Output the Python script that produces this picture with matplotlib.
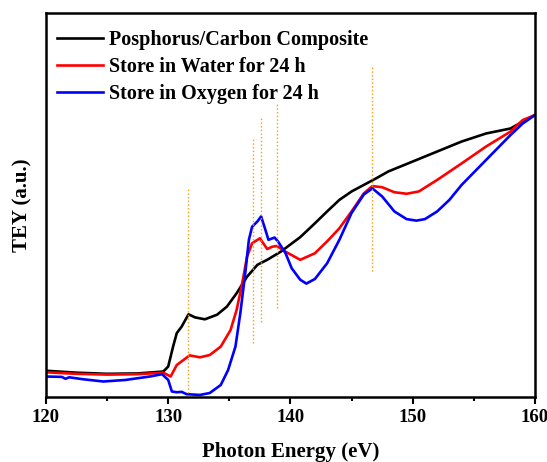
import matplotlib.pyplot as plt
from matplotlib.ticker import MultipleLocator

# photon energy (eV) and TEY (a.u.) for each sample
e_pc = [120, 122.5, 125, 127.5, 129.6, 130.0, 130.4, 130.7, 131.1, 131.66, 132.2, 133.0, 134.0,
        134.8, 135.6, 136.45, 137.3, 138.1, 139.2, 140.8, 142, 143, 144, 145, 146, 147, 148,
        150, 152, 154, 156, 158, 159, 160]
tey_pc = [0.068, 0.063, 0.06, 0.061, 0.066, 0.079, 0.131, 0.166, 0.183, 0.215, 0.207, 0.202,
          0.214, 0.235, 0.27, 0.313, 0.344, 0.357, 0.378, 0.416, 0.452, 0.483, 0.513, 0.535,
          0.552, 0.569, 0.587, 0.613, 0.639, 0.665, 0.686, 0.699, 0.717, 0.734]

e_water = [120, 122.5, 125, 127.5, 129.6, 130.2, 130.7, 131.25, 131.75, 132.6, 133.4, 134.3,
           135.1, 135.6, 136.0, 136.45, 136.86, 137.5, 138.1, 138.5, 138.9, 139.6, 140.8, 142,
           143, 144, 145, 146, 146.7, 147.5, 148.5, 149.5, 150.5, 152, 154, 156, 158, 159, 160]
tey_water = [0.064, 0.06, 0.058, 0.059, 0.063, 0.053, 0.083, 0.096, 0.108, 0.103, 0.109, 0.131,
             0.174, 0.227, 0.287, 0.365, 0.40, 0.413, 0.385, 0.391, 0.393, 0.378, 0.357, 0.374,
             0.405, 0.439, 0.483, 0.53, 0.549, 0.546, 0.533, 0.529, 0.535, 0.565, 0.608, 0.652,
             0.691, 0.721, 0.734]

e_oxy = [120, 121.3, 121.6, 121.9, 123, 124.7, 126.5, 128.5, 129.5, 130.0, 130.3, 130.7, 131.1,
         131.5, 132.6, 133.4, 134.3, 134.9, 135.5, 135.9, 136.3, 136.6, 136.86, 137.3, 137.6,
         137.95, 138.2, 138.7, 139.0, 139.6, 140.1, 140.8, 141.3, 142, 143, 144, 145, 146,
         146.7, 147.5, 148.5, 149.5, 150.3, 151, 152, 153, 154, 156, 158, 159, 160]
tey_oxy = [0.053, 0.052, 0.047, 0.051, 0.046, 0.040, 0.044, 0.053, 0.059, 0.044, 0.014, 0.012,
           0.013, 0.007, 0.005, 0.010, 0.031, 0.070, 0.131, 0.218, 0.322, 0.409, 0.443, 0.457,
           0.47, 0.435, 0.409, 0.415, 0.404, 0.374, 0.335, 0.305, 0.295, 0.307, 0.348, 0.409,
           0.479, 0.527, 0.543, 0.522, 0.483, 0.463, 0.459, 0.463, 0.483, 0.513, 0.552, 0.617,
           0.682, 0.712, 0.734]

# peak markers: position, lower end, upper end
peak_e = [131.6, 136.9, 137.6, 138.9, 146.7]
peak_lo = [0.010, 0.140, 0.194, 0.231, 0.327]
peak_hi = [0.543, 0.673, 0.730, 0.766, 0.862]

plt.rcParams['font.family'] = 'Liberation Serif'
plt.rcParams['font.weight'] = 'bold'

fig = plt.figure(figsize=(5.47, 4.62), dpi=100)
ax = fig.add_axes([0.084, 0.141, 0.894, 0.831])

ax.plot(e_pc, tey_pc, color='black', lw=1.9, label='Posphorus/Carbon Composite')
ax.plot(e_water, tey_water, color='red', lw=1.9, label='Store in Water for 24 h')
ax.plot(e_oxy, tey_oxy, color='blue', lw=1.9, label='Store in Oxygen for 24 h')
ax.vlines(peak_e, peak_lo, peak_hi, colors='#FF9900', linestyles=':', lw=1.0)

ax.set_xlim(120, 160)
ax.set_ylim(0, 1)
ax.xaxis.set_major_locator(MultipleLocator(10))
ax.xaxis.set_minor_locator(MultipleLocator(5))
ax.tick_params(axis='x', which='major', direction='out', length=5, width=1.5, labelsize=13.5)
ax.tick_params(axis='x', which='minor', direction='out', length=3, width=1.5)
ax.set_yticks([])
for s in ax.spines.values():
    s.set_linewidth(1.8)

ax.set_xlabel('Photon Energy (eV)', fontsize=15, fontweight='bold', labelpad=12)
ax.set_ylabel('TEY (a.u.)', fontsize=15, fontweight='bold', labelpad=10)

ax.legend(loc='upper left', bbox_to_anchor=(0.01, 0.972), frameon=False, fontsize=14.5,
          handlelength=2.3, handletextpad=0.3, labelspacing=0.36, borderaxespad=0,
          borderpad=0.3)

plt.savefig('out.png', dpi=100)
